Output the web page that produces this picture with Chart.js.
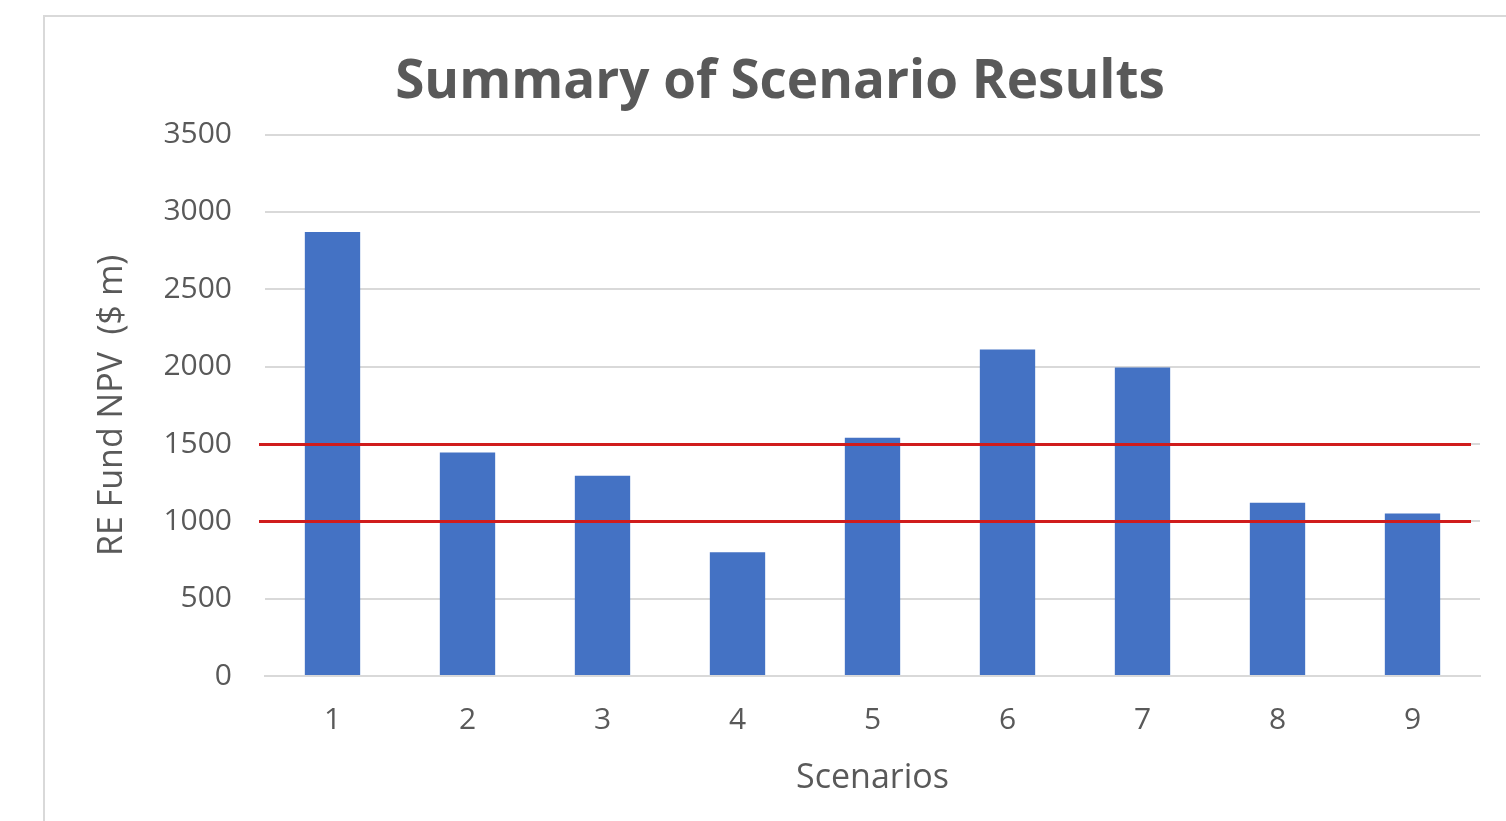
<!DOCTYPE html>
<html>
<head>
<meta charset="utf-8">
<script src="https://cdn.jsdelivr.net/npm/chart.js@4"></script>
<style>
  html, body { margin: 0; padding: 0; background: #fff; overflow: hidden; }
  #frame {
    position: absolute; left: 43px; top: 15px;
    width: 1500px; height: 900px;
    border: 2px solid #d9d9d9;
  }
  #wrap { position: absolute; left: 0; top: 0; width: 1506px; height: 821px; }
</style>
</head>
<body>
<div id="frame"></div>
<div id="wrap"><canvas id="scenarioChart" width="1506" height="821"></canvas></div>
<script>
// data
const scenarios = ['1', '2', '3', '4', '5', '6', '7', '8', '9'];
const npvValues = [2870, 1445, 1295, 800, 1540, 2110, 1995, 1120, 1050];
const thresholdValues = [1500, 1000];
const yTicks = [0, 500, 1000, 1500, 2000, 2500, 3000, 3500];

const textColor = '#595959';
const fontFamily = "'Open Sans', 'Noto Sans', sans-serif";

// red reference lines across the plot
const thresholdLines = {
    id: 'thresholdLines',
    afterDatasetsDraw(chart) {
        const ctx = chart.ctx;
        const area = chart.chartArea;
        const y = chart.scales.y;
        ctx.save();
        ctx.strokeStyle = '#d01c1c';
        ctx.lineWidth = 3;
        thresholdValues.forEach(v => {
            const py = Math.round(y.getPixelForValue(v)) + 0.5;
            ctx.beginPath();
            ctx.moveTo(area.left - 6, py);
            ctx.lineTo(area.right - 9, py);
            ctx.stroke();
        });
        ctx.restore();
    }
};

new Chart(document.getElementById('scenarioChart'), {
    type: 'bar',
    data: {
        labels: scenarios,
        datasets: [{
            label: 'RE Fund NPV',
            data: npvValues,
            backgroundColor: '#4472C4',
            categoryPercentage: 1,
            barPercentage: 0.41
        }]
    },
    options: {
        responsive: false,
        animation: false,
        layout: { padding: { left: 80, right: 26, top: 0, bottom: 22 } },
        plugins: {
            legend: { display: false },
            tooltip: { enabled: false },
            title: {
                display: true,
                text: 'Summary of Scenario Results',
                color: textColor,
                font: { family: fontFamily, size: 53, weight: 'bold', lineHeight: 1.2 },
                padding: { top: 51, bottom: 20 }
            }
        },
        scales: {
            x: {
                afterFit: scale => { scale.height = 123; },
                grid: { display: false, drawTicks: false },
                border: { display: true, color: '#d9d9d9', width: 2 },
                ticks: {
                    color: textColor,
                    padding: 26,
                    font: { family: fontFamily, size: 30, lineHeight: 1.2 }
                },
                title: {
                    display: true,
                    text: 'Scenarios',
                    color: textColor,
                    font: { family: fontFamily, size: 34, lineHeight: 1.2 },
                    padding: { top: 20, bottom: 0 }
                }
            },
            y: {
                min: 0,
                max: 3500,
                afterBuildTicks: scale => {
                    scale.ticks = yTicks.map(v => ({ value: v }));
                },
                afterFit: scale => { scale.width = 185; },
                grid: { color: '#d9d9d9', lineWidth: 2, drawTicks: false },
                border: { display: false },
                ticks: {
                    color: textColor,
                    padding: 33,
                    font: { family: fontFamily, size: 30, lineHeight: 1.2 },
                    callback: v => String(v)
                },
                title: {
                    display: true,
                    text: 'RE Fund NPV  ($ m)',
                    color: textColor,
                    font: { family: fontFamily, size: 34, lineHeight: 1.2 },
                    padding: { top: 12, bottom: 0 }
                }
            }
        }
    },
    plugins: [thresholdLines]
});
</script>
</body>
</html>
